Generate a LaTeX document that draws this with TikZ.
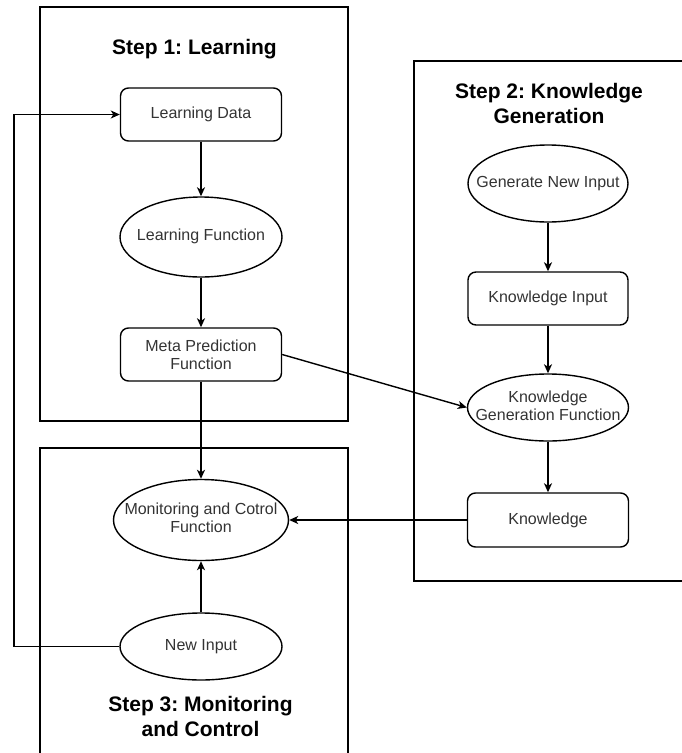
\documentclass[tikz,border=0pt]{standalone}
\usepackage{fontspec}
\setmainfont{Liberation Sans}
\usetikzlibrary{shapes.geometric,arrows.meta}
\frenchspacing

% testo centrato che non allarga l'ellisse
\newcommand{\dentro}[1]{\makebox[0pt]{\begin{tabular}{@{}c@{}}#1\end{tabular}}}
% titolo su piu' righe, base sulla prima riga
\newcommand{\righe}[1]{\begin{tabular}[t]{@{}c@{}}#1\end{tabular}}

\begin{document}
\begin{tikzpicture}[x=1pt, y=-1pt,
  blocco/.style={draw=black, line width=1.4pt, rounded corners=8pt, minimum width=161pt, minimum height=53pt, inner sep=0pt, align=center, text=txtGray, font={\fontsize{16}{18}\selectfont}},
  ovale/.style={draw=black, line width=1.4pt, ellipse, inner sep=0pt, text=txtGray, font={\fontsize{16}{18}\selectfont}},
  fase/.style={draw=black, line width=1.4pt},
  titolo/.style={anchor=base, font={\bfseries\fontsize{21}{25}\selectfont}},
  freccia/.style={draw=black, line width=1.4pt, -{Stealth[length=9pt, width=8pt, inset=2.5pt]}}
]

% Colori
\definecolor{txtGray}{HTML}{333333}

% Area del disegno
\useasboundingbox (0,0) rectangle (682,753);
\clip (0,0) rectangle (682,753);

% Riquadri delle fasi
\draw[fase] (40,7) rectangle (348,421);
\draw[fase] (682,61) -- (414,61) -- (414,581) -- (682,581);
\draw[fase] (40,760) -- (40,448) -- (348,448) -- (348,760);

% Titoli
\node[titolo] (t1) at (194.5,54.5) {Step 1: Learning};
\node[titolo] (t2) at (549,98) {\righe{Step 2: Knowledge\\Generation}};
\node[titolo] (t3) at (200.5,711) {\righe{Step 3: Monitoring\\and Control}};

% Step 1
\node[blocco] (dati) at (201,114.5) {Learning Data};
\node[ovale, minimum width=162pt, minimum height=80pt] (apprend) at (201,237) {\dentro{Learning Function}};
\node[blocco] (meta) at (201,354.5) {Meta Prediction\\Function};

% Step 2
\node[ovale, minimum width=160pt, minimum height=77pt] (genera) at (548,183.5) {\dentro{Generate New Input}};
\node[blocco, minimum width=160pt] (kinput) at (548,298.5) {Knowledge Input};
\node[ovale, minimum width=161pt, minimum height=67pt] (kgen) at (548,407.5) {\dentro{Knowledge\\Generation Function}};
\node[blocco, minimum height=54pt] (know) at (548,520) {Knowledge};

% Step 3
\node[ovale, minimum width=175pt, minimum height=81pt] (monit) at (201,520) {\dentro{Monitoring and Cotrol\\Function}};
\node[ovale, minimum width=162pt, minimum height=67pt] (nuovo) at (201,646.5) {\dentro{New Input}};

% Collegamenti
\draw[freccia] (dati.south) -- (apprend.north);
\draw[freccia] (apprend.south) -- (meta.north);
\draw[freccia] (meta.south) -- (monit.north);
\draw[freccia] (meta.east) -- (kgen.west);
\draw[freccia] (genera.south) -- (kinput.north);
\draw[freccia] (kinput.south) -- (kgen.north);
\draw[freccia] (kgen.south) -- (know.north);
\draw[freccia] (know.west) -- (monit.east);
\draw[freccia] (nuovo.north) -- (monit.south);

% Ritorno verso i dati
\coordinate (ritorno) at (14,114.5);
\draw[freccia] (nuovo.west) -| (ritorno) -- (dati.west);

\end{tikzpicture}
\end{document}
